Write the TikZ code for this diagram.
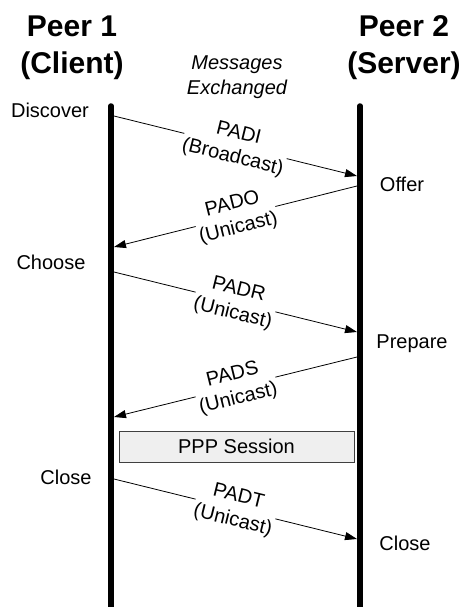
\documentclass[tikz,border=0pt]{standalone}
\usepackage{fontspec}
\setmainfont{Liberation Sans}
\usetikzlibrary{arrows.meta}
\definecolor{boxGris}{HTML}{EFEFEF}
\definecolor{boxBorde}{HTML}{404040}

\begin{document}
\begin{tikzpicture}[x=1pt, y=-1pt,
      peer/.style={align=center, font=\fontsize{30}{37}\selectfont\bfseries},
      estado/.style={font=\fontsize{20}{24}\selectfont},
      vida/.style={line width=5.5pt, line cap=round},
      msg/.style={line width=0.8pt, -{Triangle[length=12pt,width=8pt]}},
      lbl/.style={sloped, fill=white, align=center, inner sep=1pt,
                  font=\fontsize{20}{24.5}\selectfont},
      every node/.style={align=center}]
    \useasboundingbox (0,0) rectangle (465,607);
    % encabezados
    \node[peer] (p1) at (72,48)  {Peer 1\\(Client)};
    \node[peer] (p2) at (404,48) {Peer 2\\(Server)};
    \node[font=\fontsize{20}{25}\selectfont\itshape] (me) at (237,77) {Messages\\Exchanged};
    % lineas de vida
    \coordinate (t1) at (111,106);
    \coordinate (b1) at (111,607);
    \coordinate (t2) at (360,106);
    \coordinate (b2) at (360,607);
    \draw[vida] (t1) -- (b1);
    \draw[vida] (t2) -- (b2);
    % estados
    \node[estado] (disc)  at (50,110)  {Discover};
    \node[estado] (offer) at (402,184) {Offer};
    \node[estado] (choo)  at (51,262)  {Choose};
    \node[estado] (prep)  at (412,344) {Prepare};
    \node[estado] (cl1)   at (66,477)  {Close};
    \node[estado] (cl2)   at (405,543) {Close};
    % puntos de los mensajes
    \coordinate (m1a) at (114,116);
    \coordinate (m1b) at (357,176);
    \coordinate (m2a) at (357,186);
    \coordinate (m2b) at (114,247);
    \coordinate (m3a) at (114,272);
    \coordinate (m3b) at (357,332);
    \coordinate (m4a) at (357,357);
    \coordinate (m4b) at (114,417);
    \coordinate (m5a) at (114,479);
    \coordinate (m5b) at (357,539);
    \draw[msg] (m1a) -- node[lbl] {PADI\\(Broadcast)} (m1b);
    \draw[msg] (m2a) -- node[lbl] {PADO\\(Unicast)} (m2b);
    \draw[msg] (m3a) -- node[lbl] {PADR\\(Unicast)} (m3b);
    \draw[msg] (m4a) -- node[lbl] {PADS\\(Unicast)} (m4b);
    \draw[msg] (m5a) -- node[lbl] {PADT\\(Unicast)} (m5b);
    % sesion
    \node[draw=boxBorde, fill=boxGris, line width=0.8pt, minimum width=235pt,
          minimum height=31pt, font=\fontsize{20}{24}\selectfont] (ppp) at (236.5,446.5) {PPP Session};
  \end{tikzpicture}
\end{document}
